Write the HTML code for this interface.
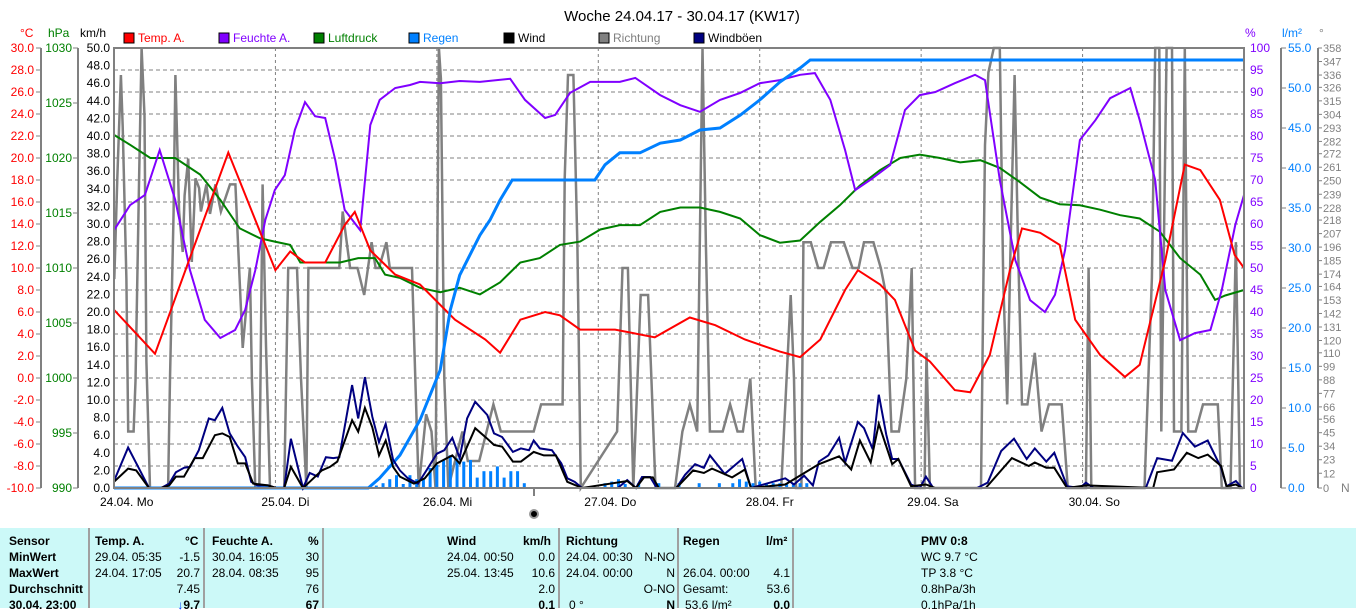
<!DOCTYPE html>
<html><head><meta charset="utf-8">
<style>
body{margin:0;width:1356px;height:608px;overflow:hidden;background:#fff;font-family:"Liberation Sans",sans-serif;}
#chart{position:absolute;left:0;top:0;}
#table{position:absolute;left:0;top:528px;width:1356px;height:80px;background:#ccf9f8;font-size:12px;color:#000;}
#table div{position:absolute;white-space:nowrap;line-height:14px;}
.sep{width:2px;height:80px;top:0;background:#a0a0a0;}
.b{font-weight:bold;}
.r{text-align:right;}
</style></head><body>
<svg id="chart" width="1356" height="528" font-family="Liberation Sans, sans-serif">
<g id="grid"></g>
<g id="axes"></g>
<g id="series"></g>
<text x="682" y="21" font-size="15" text-anchor="middle" fill="#000">Woche 24.04.17 - 30.04.17 (KW17)</text>
</svg>
<div id="table">
<div class="sep" style="left:88px"></div><div class="sep" style="left:203px"></div><div class="sep" style="left:322px"></div><div class="sep" style="left:558px"></div><div class="sep" style="left:677px"></div><div class="sep" style="left:792px"></div>
<div class="b" style="left:9px;top:6px">Sensor</div>
<div class="b" style="left:9px;top:22px">MinWert</div>
<div class="b" style="left:9px;top:38px">MaxWert</div>
<div class="b" style="left:9px;top:54px">Durchschnitt</div>
<div class="b" style="left:9px;top:70px">30.04. 23:00</div>
<div class="b" style="left:95px;top:6px">Temp. A.</div><div class="b" style="left:185px;top:6px">°C</div>
<div style="left:95px;top:22px">29.04. 05:35</div><div class="r" style="left:160px;width:40px;top:22px">-1.5</div>
<div style="left:95px;top:38px">24.04. 17:05</div><div class="r" style="left:160px;width:40px;top:38px">20.7</div>
<div class="r" style="left:160px;width:40px;top:54px">7.45</div>
<div class="r b" style="left:160px;width:40px;top:70px"><span style="color:#0040ff">↓</span>9.7</div>
<div class="b" style="left:212px;top:6px">Feuchte A.</div><div class="b" style="left:308px;top:6px">%</div>
<div style="left:212px;top:22px">30.04. 16:05</div><div class="r" style="left:280px;width:39px;top:22px">30</div>
<div style="left:212px;top:38px">28.04. 08:35</div><div class="r" style="left:280px;width:39px;top:38px">95</div>
<div class="r" style="left:280px;width:39px;top:54px">76</div>
<div class="r b" style="left:280px;width:39px;top:70px">67</div>
<div class="b" style="left:447px;top:6px">Wind</div><div class="b" style="left:523px;top:6px">km/h</div>
<div style="left:447px;top:22px">24.04. 00:50</div><div class="r" style="left:515px;width:40px;top:22px">0.0</div>
<div style="left:447px;top:38px">25.04. 13:45</div><div class="r" style="left:515px;width:40px;top:38px">10.6</div>
<div class="r" style="left:515px;width:40px;top:54px">2.0</div>
<div class="r b" style="left:515px;width:40px;top:70px">0.1</div>
<div class="b" style="left:566px;top:6px">Richtung</div>
<div style="left:566px;top:22px">24.04. 00:30</div><div class="r" style="left:626px;width:49px;top:22px">N-NO</div>
<div style="left:566px;top:38px">24.04. 00:00</div><div class="r" style="left:626px;width:49px;top:38px">N</div>
<div class="r" style="left:626px;width:49px;top:54px">O-NO</div>
<div style="left:569px;top:70px">0 °</div><div class="r b" style="left:626px;width:49px;top:70px">N</div>
<div class="b" style="left:683px;top:6px">Regen</div><div class="b" style="left:766px;top:6px">l/m²</div>
<div style="left:683px;top:38px">26.04. 00:00</div><div class="r" style="left:750px;width:40px;top:38px">4.1</div>
<div style="left:683px;top:54px">Gesamt:</div><div class="r" style="left:750px;width:40px;top:54px">53.6</div>
<div style="left:685px;top:70px">53.6 l/m²</div><div class="r b" style="left:750px;width:40px;top:70px">0.0</div>
<div class="b" style="left:921px;top:6px">PMV 0:8</div>
<div style="left:921px;top:22px">WC 9.7 °C</div>
<div style="left:921px;top:38px">TP 3.8 °C</div>
<div style="left:921px;top:54px">0.8hPa/3h</div>
<div style="left:921px;top:70px">0.1hPa/1h</div>
</div>
<script>
// ---- data ----
const tempHours=[0,6.1,17,24,26.2,28.4,31.4,34.3,35.8,38.1,41.8,45.5,50.7,55.2,57.4,60.4,64.1,66.3,69.3,74.5,80.4,85.6,89.4,93.8,99,102,105,108.7,110.6,113.9,116.1,119.1,121.3,125,127.3,130.2,133.2,135,137.7,140.6,142.9,146.6,150.3,152.5,156.3,159.2,161.5,164.4,166.6,168];
const tempVals=[6.2,2.2,20.5,9.8,11.5,10.5,10.5,13.9,15.1,11.6,9.4,8.5,5.3,3.5,2.3,5.3,6.0,5.7,4.4,4.4,3.7,5.5,4.8,3.5,2.4,1.9,3.5,8.0,9.8,8.5,7.1,2.5,1.5,-1.1,-1.3,2.1,9.8,13.6,13.2,12.1,5.3,2.1,0.1,1.2,10.7,19.4,18.9,16.2,11.2,10.0];
const humHours=[0,2.4,4.6,6.8,9.1,11.3,13.5,15.8,18,19.5,21,22.5,23.9,25.4,26.9,28.4,29.9,31.4,32.9,34.3,36.6,38.1,39.5,41.8,44,45.5,48.5,51.4,54.4,58.9,61.1,64.1,65.6,67.8,70.8,75.2,77.5,81.2,84.2,87.1,90.1,93.1,96,99,102,104.2,106.5,108.7,110.2,112.4,115.4,117.6,119.8,122.1,125,128,129.5,131.7,134,136.2,138.4,139.9,141.4,143.6,145.9,148.1,151.1,152.5,154.8,156.3,158.5,160.7,163,164.7,166.7,168];
const humVals=[58.6,64.3,66.6,76.8,65.5,49.5,38.2,34.1,35.9,40.5,49.5,60.9,67.7,71.1,81.4,87.7,84.5,84.1,74.5,63.2,58.6,82.5,88.2,90.9,91.6,92.3,92,92.5,92.3,93,88.2,84.1,84.8,89.8,92.3,92.3,93.2,89.3,87,85.5,88.2,89.8,92,92.7,93.9,94.3,88.2,76.8,67.7,70,73.4,85.9,89.3,90,92,93.9,92.7,70,51.8,42.7,40,43.9,54.1,79.1,83.6,88.6,90.9,83.6,70,45,33.6,35.2,35.9,45,59.8,66.6];
const pressHours=[0,2.4,5.4,9.1,12.8,15.8,18.7,21.7,23.9,26.2,27.7,30.6,33.6,36.3,38.8,40.3,42.5,45.5,48.5,51.4,54.4,57.4,60.4,63.3,66.3,69.3,72.3,75.2,78.2,81.2,84.2,87.1,90.1,93.1,96,99,102,105,107.9,110.9,113.9,116.9,119.8,122.8,125.8,128.8,131.7,134.7,137.7,140.6,143.6,146.6,149.6,152.5,155.5,158.5,161.5,163.7,165.2,168];
const pressVals=[1022.1,1021.2,1020,1020,1018.5,1016.2,1013.6,1012.7,1012.4,1012.1,1010.5,1010.5,1010.5,1010.9,1010.9,1009.4,1009.1,1008.2,1007.8,1008.2,1007.6,1008.7,1010.5,1010.9,1012.1,1012.4,1013.5,1013.9,1013.9,1015.1,1015.5,1015.5,1015.1,1014.5,1013,1012.3,1012.5,1014.2,1015.7,1017.5,1018.9,1020,1020.3,1020,1019.6,1019.8,1019.1,1017.8,1016.4,1015.8,1015.7,1015.3,1014.8,1014.5,1013.3,1010.9,1009.4,1007.1,1007.5,1008];
const rainHours=[0,37.8,39.5,42.5,45.5,48.5,50,51.4,52.9,54.4,55.9,57.4,59.2,71.5,73,75.2,78.2,81.2,84.2,87.1,90.1,93.1,96,99,102,103.5,168];
const rainVals=[0,0,1.25,4.1,8.5,14.75,22.25,26.6,29.1,31.6,33.5,36,38.5,38.5,40.4,41.9,41.9,43.1,43.5,44.75,45,46.6,48.5,50.75,52.5,53.5,53.5];
const rainBarHours=[39,40,41,42,43,44,45,46,47,48,49,50,51,52,53,54,55,56,57,58,59,60,61,73,74,75,76,78,81,84,87,90,92,93,94,95,96,97,98,99,100,101,102,103];
const rainBarVals=[0.3,0.6,1.1,1.6,0.5,1.6,1.1,1.2,2.5,2.9,3.5,4.1,3.7,3.3,3.5,1.3,2.1,2.1,2.7,1.3,2.1,2.1,0.6,0.6,0.8,1.1,0.5,0.6,0.6,0.6,0.6,0.6,0.6,1.1,0.8,0.6,0.8,0.6,0.6,0.6,0.6,0.6,0.6,0.6];
const windHours=[0,2.1,3.3,5.2,7.0,8.2,9.2,10.4,12.0,13.2,15.0,16.1,17.2,18.4,19.5,20.7,22.9,24.1,25.3,26.3,28.1,29.1,30.9,32.1,33.2,35.4,36.3,37.3,38.4,39.4,40.4,41.5,42.5,44.6,46.2,48.0,50.3,51.4,53.7,55.5,56.5,57.7,59.3,60.5,62.4,63.9,65.7,67.4,69.6,76.3,77.6,78.8,80.1,81.0,83.6,86.1,87.7,88.9,91.9,93.8,94.7,99.8,104.8,107.8,109.6,110.9,112.5,113.7,115.7,116.6,118.5,120.7,122.1,129.6,133.5,136.0,136.9,138.6,139.8,141.7,144.5,154.5,155.1,157.6,159.5,161.2,162.6,164.6,165.4,166.8,167.7];
const windVals=[0.7,2.2,2.0,0,0,0.3,1.3,1.3,3.4,3.4,6.0,6.2,5.8,2.8,2.8,0.5,0.3,0,0,2.4,0,0.7,2.0,2.4,3.0,7.7,6.4,9.1,6.9,3.7,5.4,2.4,1.3,0.5,1.1,2.8,3.7,2.8,6.8,5.6,4.9,4.7,3.0,3.0,4.1,3.7,3.7,0.7,0,0.8,0,1.2,1.2,0,0,2.0,1.7,2.2,1.2,2.1,0,0.4,2.7,3.6,2.1,5.4,2.9,7.3,2.7,3.3,0.2,0.4,0,0,3.4,2.5,2.9,2.3,2.3,0,0.3,0,1.8,2.1,4.0,3.4,3.8,2.5,0.2,0.4,0];
const gustHours=[0,2.1,3.6,5.2,7.0,8.2,9.2,10.4,11.3,12.6,14.1,15.0,16.1,17.2,18.4,19.5,20.4,21.3,22.9,24.1,25.3,26.3,28.1,29.1,30.3,31.5,32.6,33.5,35.4,36.3,37.3,38.4,39.4,40.4,41.5,42.5,43.7,45.2,46.2,48.0,49.1,50.3,51.4,52.5,53.7,55.5,56.5,57.7,59.3,60.5,61.7,62.4,63.3,65.1,66.5,67.4,68.5,69.6,74.9,76.3,77.6,78.5,79.7,80.7,83.6,84.9,86.4,87.7,88.6,90.8,93.4,94.7,99.8,101.1,102.6,103.9,104.8,106.2,107.8,108.7,110.6,111.5,112.8,113.7,114.8,115.7,116.6,118.5,119.8,120.7,121.8,128.3,129.9,131.9,133.8,135.7,136.9,138.6,139.8,141.7,143.6,144.5,145.6,153.4,155.1,157.3,158.9,160.7,162.6,164.6,165.4,166.8,167.7];
const gustVals=[0.8,4.6,2.4,0,0,0.5,1.8,2.3,2.4,4.3,7.9,7.7,9.1,6.2,4.7,3.5,0.7,0.3,0.3,0,0,5.6,0,1.7,1.3,3.5,3.4,3.5,11.7,7.9,12.6,8.1,5.2,7.3,3.2,2.0,1.1,0.5,1.7,3.9,4.3,5.7,3.4,7.9,9.8,8.3,6.2,5.8,4.1,4.5,4.3,5.4,4.5,4.3,2.8,1.1,0.7,0,0,0.9,0,1.25,1.25,0,0,1.5,2.7,2.3,3.7,1.6,3.3,0,1.1,0.4,1.4,0.3,3.0,3.7,5.7,2.9,7.5,6.8,4.4,10.6,6.1,3.3,3.3,0.4,0,1.3,0,0,0.6,4.2,5.6,3.3,4.5,3.0,4.0,0.2,0,0.6,0,0,3.4,3.1,6.25,4.7,5.4,2.3,0.2,0.8,0];
const dirHours=[0.05,0.49,1.03,1.3,1.84,2.11,2.92,3.19,3.73,4.11,4.54,4.81,5.35,8.05,8.32,8.86,9.13,9.68,10.22,10.49,11.03,11.57,12.11,12.65,12.92,13.73,14.27,15.08,15.89,17.24,18.05,18.6,19.14,20.2,20.5,21,21.6,22.1,22.6,23.2,25.3,25.9,27.2,27.8,28.6,28.9,33.5,34,35.1,36.2,37.2,38.3,38.9,39.4,40.5,41,44.3,44.8,45.3,46.4,47.2,47.8,48.3,48.6,49.1,49.7,51.8,52.6,54.3,56.4,57.5,62.4,63.5,66.7,67,67.5,68.3,68.9,69.4,74.8,75.6,76.4,77.2,78.3,79.4,79.9,80.5,83.4,84.5,85.6,86.7,87.5,88.0,88.6,90.5,91.6,92.7,93.5,94.6,95.4,99.2,100.6,101.1,101.4,102.2,102.5,103.6,104.7,105.5,106.6,108.5,109.8,110.7,111.5,112.9,114,114.8,115.6,116.7,117.8,118.6,119.1,120.5,120.8,121.3,128.9,129.5,130,130.8,131.7,132.2,132.8,133.3,133.9,134.4,135,135.8,136.9,137.9,139,140.9,141.8,144.5,144.9,145.3,153.2,154.3,154.8,155.4,155.7,156.5,157.3,157.6,158.7,159.2,159.7,160.8,161.9,164.1,164.7,166,166.8,167.4,167.9];
const dirVals=[170,252,336,294,170,46,46,87,252,358,303,103,0,0,89,225,336,225,192,238,268,184,252,244,225,247,223,247,225,247,247,179,114,179,89,0,0,247,116,0,0,179,179,89,0,179,179,225,179,179,157,200,179,179,200,179,179,89,0,60,46,0,358,333,89,0,46,22,22,68,46,46,68,68,252,336,336,197,0,46,179,179,0,157,157,89,0,0,46,68,46,358,198,46,46,68,46,46,89,0,0,157,89,0,0,200,200,179,179,200,200,179,179,200,200,179,157,46,46,89,179,0,0,110,0,0,279,338,358,358,170,68,198,336,198,68,68,110,46,68,68,0,0,179,0,0,171,358,358,46,358,358,46,46,358,46,46,68,68,0,0,200,0,0];
const tempTicks=[-10,-8,-6,-4,-2,0,2,4,6,8,10,12,14,16,18,20,22,24,26,28,30];
const pressTicks=[990,995,1000,1005,1010,1015,1020,1025,1030];
const windTicks=[0,2,4,6,8,10,12,14,16,18,20,22,24,26,28,30,32,34,36,38,40,42,44,46,48,50];
const humTicks=[0,5,10,15,20,25,30,35,40,45,50,55,60,65,70,75,80,85,90,95,100];
const rainTicks=[0,5,10,15,20,25,30,35,40,45,50,55];
const dirTicks=[0,12,23,34,45,56,66,77,88,99,110,120,131,142,153,164,174,185,196,207,218,228,239,250,261,272,282,293,304,315,326,336,347,358];
const dayLabels=["24.04. Mo","25.04. Di","26.04. Mi","27.04. Do","28.04. Fr","29.04. Sa","30.04. So"];

// ---- scales ----
const L=114,R=1244,T=48,B=488;
const X=h=>L+h*(R-L)/168;
const yT=v=>B-(v+10)*(B-T)/40;
const yP=v=>B-(v-990)*(B-T)/40;
const yW=v=>B-v*(B-T)/50;
const yH=v=>B-v*(B-T)/100;
const yR=v=>B-v*(B-T)/55;
const yD=v=>B-v*(B-T)/358;
const NS="http://www.w3.org/2000/svg";
function mk(tag,attrs,parent,txt){const e=document.createElementNS(NS,tag);for(const k in attrs)e.setAttribute(k,attrs[k]);if(txt!==undefined)e.textContent=txt;parent.appendChild(e);return e;}
const grid=document.getElementById('grid'),axes=document.getElementById('axes'),ser=document.getElementById('series');

for(let i=1;i<20;i++){const y=yH(i*5);const g=mk('line',{x1:L,x2:R,y1:y,y2:y,stroke:'#808080','stroke-width':1,'stroke-dasharray':'4,3'},grid);

}
for(let d=1;d<7;d++){const x=X(d*24);const g=mk('line',{x1:x,x2:x,y1:T,y2:B,stroke:'#808080','stroke-width':1,'stroke-dasharray':'3,3'},grid);

}

mk('line',{x1:41,x2:41,y1:T,y2:B,stroke:'#808080','stroke-width':2},axes);
mk('line',{x1:78,x2:78,y1:T,y2:B,stroke:'#808080','stroke-width':2},axes);
tempTicks.forEach(v=>{const y=yT(v);mk('line',{x1:36,x2:41,y1:y,y2:y,stroke:'#808080'},axes);
const t=mk('text',{x:34,y:y+4,'font-size':12,fill:'#ff0000','text-anchor':'end'},axes,v.toFixed(1));

});
pressTicks.forEach(v=>{const y=yP(v);mk('line',{x1:73,x2:78,y1:y,y2:y,stroke:'#808080'},axes);
const t=mk('text',{x:72,y:y+4,'font-size':12,fill:'#008000','text-anchor':'end'},axes,String(v));

});
windTicks.forEach(v=>{const y=yW(v);
const t=mk('text',{x:110,y:y+4,'font-size':12,fill:'#000','text-anchor':'end'},axes,v.toFixed(1));

});
humTicks.forEach(v=>{const y=yH(v);
const t=mk('text',{x:1250,y:y+4,'font-size':12,fill:'#8000ff'},axes,String(v));

});
mk('line',{x1:1281,x2:1281,y1:T,y2:B,stroke:'#808080','stroke-width':2},axes);
rainTicks.forEach(v=>{const y=yR(v);mk('line',{x1:1281,x2:1286,y1:y,y2:y,stroke:'#808080'},axes);
const t=mk('text',{x:1288,y:y+4,'font-size':12,fill:'#0080ff'},axes,v.toFixed(1));

});
mk('line',{x1:1318,x2:1318,y1:T,y2:B,stroke:'#808080','stroke-width':2},axes);
dirTicks.forEach(v=>{const y=yD(v);mk('line',{x1:1318,x2:1322,y1:y,y2:y,stroke:'#808080'},axes);
const t=mk('text',{x:1323,y:y+4,'font-size':11,fill:'#808080'},axes,String(v));

});
mk('text',{x:1341,y:492,'font-size':12,fill:'#808080'},axes,'N');
[['°C',20,'#ff0000'],['hPa',48,'#008000'],['km/h',80,'#000'],['%',1245,'#8000ff'],['l/m²',1282,'#0080ff'],['°',1319,'#808080']].forEach(u=>{
const t=mk('text',{x:u[1],y:37,'font-size':12,fill:u[2]},axes,u[0]);

});
[['Temp. A.','#ff0000','#ff0000'],['Feuchte A.','#8000ff','#8000ff'],['Luftdruck','#008000','#008000'],['Regen','#0080ff','#0080ff'],['Wind','#000','#000'],['Richtung','#808080','#808080'],['Windböen','#000080','#000']].forEach((l,i)=>{
const g=mk('g',{},axes);


const x=124+i*95;
mk('rect',{x:x,y:33,width:10,height:10,fill:l[1],stroke:'#000','stroke-width':1},g);
mk('text',{x:x+14,y:42,'font-size':12,fill:l[2]},g,l[0]);});
dayLabels.forEach((d,i)=>{const t=mk('text',{x:X(i*24)-14,y:506,'font-size':12,fill:'#000'},axes,d);

});
mk('line',{x1:534,x2:534,y1:488,y2:496,stroke:'#000'},axes);
mk('circle',{cx:534,cy:514,r:4,fill:'#000',stroke:'#999','stroke-width':2},axes);

function line(hs,vs,sc,col,w,name){const n=Math.min(hs.length,vs.length);const pts=[];for(let i=0;i<n;i++)pts.push(X(hs[i]).toFixed(1)+','+sc(vs[i]).toFixed(1));
const e=mk('polyline',{points:pts.join(' '),fill:'none',stroke:col,'stroke-width':w,'stroke-linejoin':'miter'},ser);

}
line(dirHours,dirVals,yD,'#808080',2.5,'direction-line');
rainBarHours.forEach((h,i)=>{const x=X(h);const y=yR(rainBarVals[i]);
const r=mk('rect',{x:x-1.5,y:y,width:3,height:B-y,fill:'#0080ff'},ser);

});
line(pressHours,pressVals,yP,'#008000',2,'pressure-line');
line(humHours,humVals,yH,'#8000ff',2,'humidity-line');
line(tempHours,tempVals,yT,'#ff0000',2,'temperature-line');
line(rainHours,rainVals,yR,'#0080ff',3,'rain-line');
line(gustHours,gustVals,yW,'#000080',2,'gust-line');
line(windHours,windVals,yW,'#000000',2,'wind-line');
const f=mk('rect',{x:L,y:T,width:R-L,height:B-T,fill:'none',stroke:'#808080','stroke-width':2},ser);


</script>
</body></html>
